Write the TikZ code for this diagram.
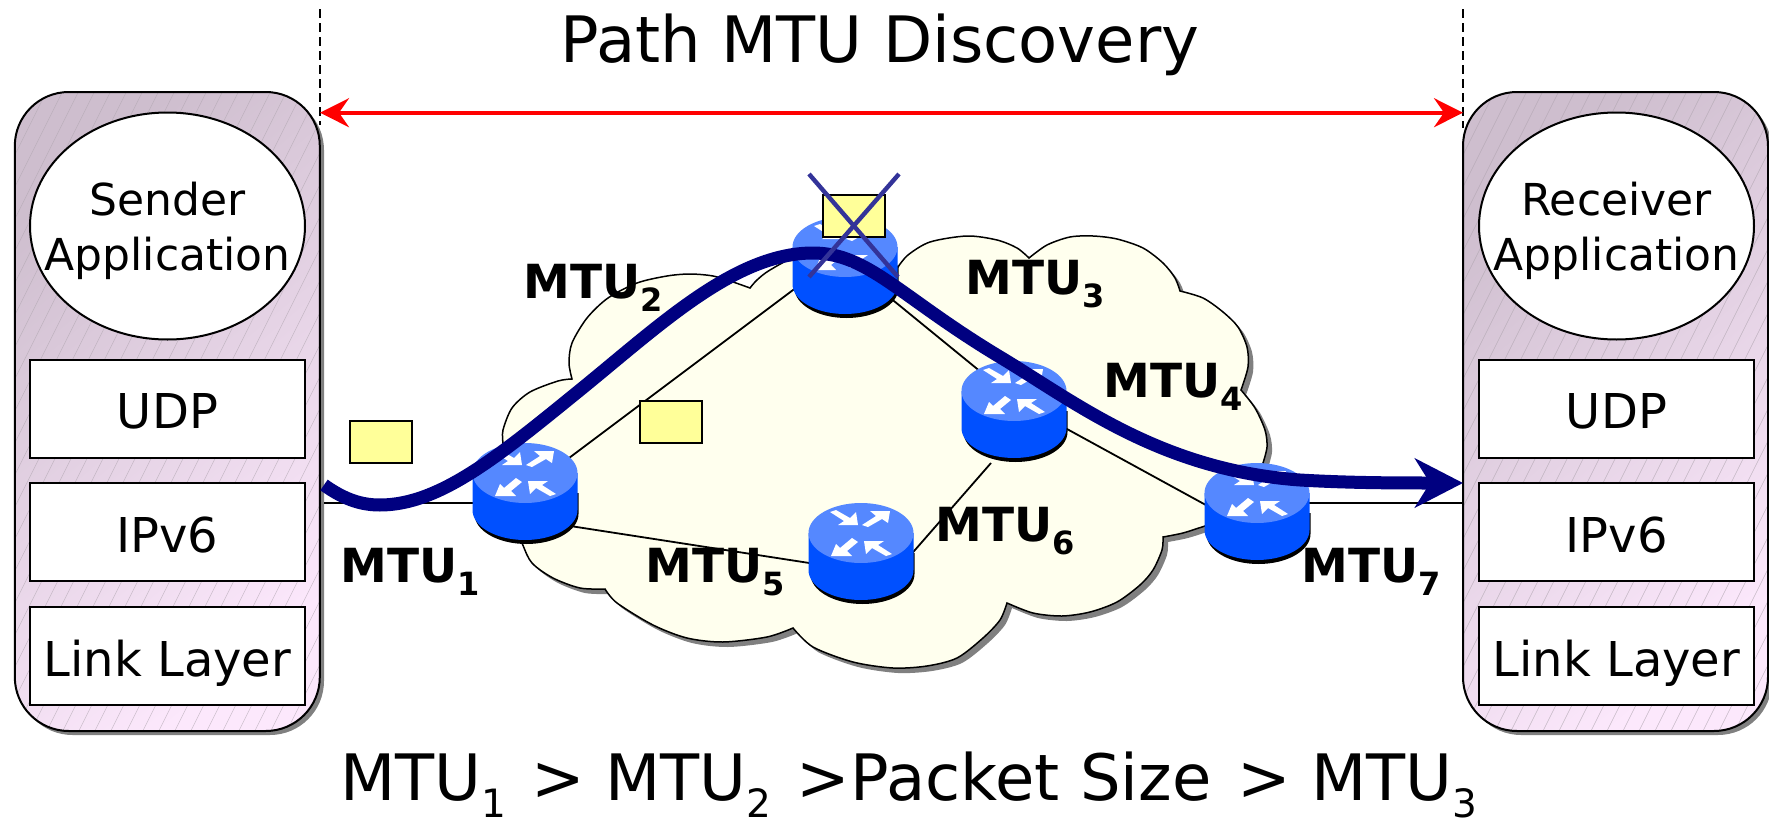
\documentclass[tikz,border=0pt]{standalone}
\usepackage{fontspec}
\setmainfont{DejaVu Sans}
\usetikzlibrary{arrows.meta,calc,shapes.geometric}
\definecolor{hostdark}{RGB}{206,190,206}
\definecolor{hostlight}{RGB}{252,232,252}
\definecolor{hatchc}{RGB}{176,166,176}
\definecolor{shadowc}{RGB}{128,128,128}
\definecolor{cloudc}{RGB}{255,255,238}
\definecolor{packetc}{RGB}{255,255,153}
\definecolor{rlight}{RGB}{85,136,255}
\definecolor{rbody}{RGB}{0,80,255}
\definecolor{pathc}{RGB}{0,0,128}
\definecolor{crossc}{RGB}{51,51,153}
\newcommand{\subreg}[1]{\raisebox{-8.5pt}{\fontsize{19.5}{20}\selectfont #1}}
\newcommand{\mtulab}[1]{\textbf{MTU\raisebox{-6.5pt}{\fontsize{16}{16}\selectfont #1}}}
\newcommand{\cloudpath}{
  plot[smooth] coordinates {(503,443) (503,430) (512,408) (530,392) (558,381) (572,379)}
  -- plot[smooth] coordinates {(572,379) (569,363) (572,343) (587,318) (608,298) (637,283) (667,276) (690,274) (713,276) (733,282) (750,288)}
  -- plot[smooth] coordinates {(750,288) (757,280) (770,270) (800,255) (850,245) (880,255) (898,267)}
  -- plot[smooth] coordinates {(898,267) (908,255) (930,242) (967,236) (997,240) (1017,248) (1029,258)}
  -- plot[smooth] coordinates {(1029,258) (1047,245) (1070,237) (1093,236) (1117,239) (1143,248) (1163,263) (1175,278) (1180,291)}
  -- plot[smooth] coordinates {(1180,291) (1203,298) (1223,312) (1238,327) (1247,347) (1248,367) (1241,390)}
  -- plot[smooth] coordinates {(1241,390) (1255,408) (1265,430) (1267,447) (1263,463)}
  -- plot[smooth] coordinates {(1263,463) (1265,490) (1240,515) (1205,526) (1183,533) (1163,537)}
  -- plot[smooth] coordinates {(1163,537) (1162,550) (1153,570) (1140,585) (1117,602) (1090,612) (1062,616) (1033,613) (1007,603)}
  -- plot[smooth] coordinates {(1007,603) (1000,620) (983,638) (957,658) (927,666) (893,668) (853,662) (813,647) (793,628)}
  -- plot[smooth] coordinates {(793,628) (767,637) (723,642) (687,638) (653,625) (617,603) (605,589)}
  -- plot[smooth] coordinates {(605,589) (580,588) (553,578) (532,563) (522,543) (505,500) (503,443)}
  -- cycle}
\tikzset{
  px/.style={x=.5pt,y=-.5pt},
  hostbox/.style={draw=black,line width=1pt,rounded corners=27pt,inner sep=0pt,
    minimum width=152.5pt,minimum height=319.5pt,
    top color=hostdark,bottom color=hostlight,shading angle=40,
    path picture={\foreach \i in {-25,...,25}{
      \draw[hatchc,line width=.25pt,opacity=.7] ($(path picture bounding box.south west)+(\i*16,0)$) -- ++(320,-640);}}},
  appell/.style={ellipse,draw=black,fill=white,line width=1pt,inner sep=0pt,
    minimum width=137.5pt,minimum height=113.5pt},
  apptext/.style={inner sep=0pt,align=center,font=\fontsize{22}{27.5}\selectfont},
  layerbox/.style={rectangle,draw=black,fill=white,line width=1pt,inner sep=0pt,
    minimum width=137.5pt,minimum height=49pt,text height=26pt,text depth=6pt,font=\fontsize{24}{28}\selectfont},
  packet/.style={rectangle,draw=black,fill=packetc,line width=1pt,inner sep=0pt,
    minimum width=31pt,minimum height=21pt},
  hub/.style={inner sep=0pt,minimum size=0pt},
  wire/.style={black,line width=.9pt},
  guide/.style={black,line width=.65pt,dash pattern=on 4.5pt off 2.5pt},
  mtu/.style={anchor=base west,inner sep=0pt,font=\fontsize{23.5}{28}\selectfont},
  bigtext/.style={inner sep=0pt,font=\fontsize{32}{38}\selectfont},
  router/.pic={
    \fill[black] (-50.5,20) -- (53.5,20) -- (53.5,41) arc[start angle=0,end angle=180,x radius=52,y radius=30] -- cycle;
    \fill[rbody] (-52.5,0) -- (52.5,0) -- (52.5,37) arc[start angle=0,end angle=180,x radius=52.5,y radius=30] -- cycle;
    \fill[rlight] (0,0) ellipse[x radius=52.5,y radius=30];
    \fill[white] (-30,23) -- (-9,23) -- (-14,18) -- (-3,9) -- (-9,5) -- (-21,15) -- (-25,11) -- cycle;
    \fill[white] (3,8) -- (23,8) -- (17,12) -- (31,21) -- (25,23) -- (11,15) -- (5,21) -- cycle;
    \fill[white] (-3,-8) -- (-23,-8) -- (-17,-12) -- (-31,-21) -- (-25,-23) -- (-11,-15) -- (-5,-21) -- cycle;
    \fill[white] (29,-22) -- (9,-22) -- (15,-17) -- (1,-8) -- (7,-6) -- (21,-14) -- (27,-10) -- cycle;
  }
}
\begin{document}
\begin{tikzpicture}[px]
\useasboundingbox (0,0) rectangle (1769,819);
% hosts
\fill[shadowc,rounded corners=27pt] (18.5,96) rectangle (324,735);
\fill[shadowc,rounded corners=27pt] (1467,96) rectangle (1772,735);
\node[hostbox] (hostL) at (167.3,411.5) {};
\node[hostbox] (hostR) at (1615.5,411.5) {};
\node[appell] (appL) at (167.5,226) {};
\node[appell] (appR) at (1616.5,226) {};
\node[apptext] (appLt) at (167.5,231) {Sender\\Application};
\node[apptext] (appRt) at (1616.5,231) {Receiver\\Application};
\node[layerbox] (udpL) at (167.5,408.5) {UDP};
\node[layerbox] (ipL) at (167.5,532) {IPv6};
\node[layerbox] (linkL) at (167.5,656) {Link Layer};
\node[layerbox] (udpR) at (1616.5,408.5) {UDP};
\node[layerbox] (ipR) at (1616.5,532) {IPv6};
\node[layerbox] (linkR) at (1616.5,656) {Link Layer};
% guides
\coordinate (gLt) at (320,9);
\coordinate (gLb) at (320,125);
\coordinate (gRt) at (1463,9);
\coordinate (gRb) at (1463,128);
\draw[guide] (gLt) -- (gLb);
\draw[guide] (gRt) -- (gRb);
\coordinate (spanL) at (320,112.7);
\coordinate (spanR) at (1463,112.7);
\draw[red,line width=1.8pt,{Stealth[length=14.5pt,width=14.5pt,inset=5pt]}-{Stealth[length=14.5pt,width=14.5pt,inset=5pt]}] (spanL) -- (spanR);
% cloud
\fill[shadowc,shift={(5,5)}] \cloudpath;
\draw[black,fill=cloudc,line width=.75pt] \cloudpath;
% anchors of the routers
\node[hub] (r1) at (525,473) {};
\node[hub] (r2) at (845,247) {};
\node[hub] (r3) at (1014,391) {};
\node[hub] (r4) at (861,533) {};
\node[hub] (r5) at (1257,493) {};
\coordinate (w1) at (324,503);
\coordinate (w2) at (1463,503);
\coordinate (free) at (991,463);
% links
\draw[wire] (w1) -- ([shift={(0,30)}]r1.center);
\draw[wire] ([shift={(0,10)}]r5.center) -- (w2);
\draw[wire] ([shift={(0,18)}]r1.center) -- ([shift={(0,4)}]r2.center);
\draw[wire] ([shift={(0,14)}]r2.center) -- ([shift={(0,8)}]r3.center);
\draw[wire] ([shift={(0,9)}]r3.center) -- ([shift={(0,40)}]r5.center);
\draw[wire] ([shift={(0,46)}]r1.center) -- ([shift={(0,38)}]r4.center);
\draw[wire] (free) -- ([shift={(40,33)}]r4.center);
% routers
\pic at (r1.center) {router};
\pic at (r2.center) {router};
\pic at (r3.center) {router};
\pic at (r4.center) {router};
\pic at (r5.center) {router};
% packets
\node[packet] (p1) at (380.5,442) {};
\node[packet] (p2) at (671,422) {};
\node[packet] (p3) at (854,216) {};
% path
\coordinate (flowA) at (324,485);
\coordinate (flowB) at (1463,483);
\draw[pathc,line width=6.5pt,-{Stealth[length=24pt,width=24.5pt,inset=7.5pt]}]
  (flowA) .. controls (345,500) and (362,505) .. (380,505)
  .. controls (440,505) and (500,455) .. (580,390)
  .. controls (660,325) and (735,253) .. (813,253)
  .. controls (868,253) and (900,297) .. (1000,357)
  .. controls (1075,402) and (1160,470) .. (1300,480)
  .. controls (1350,483) and (1400,483) .. (flowB);
% cross
\coordinate (xa) at (809,174);
\coordinate (xb) at (898,277);
\coordinate (xc) at (899,174);
\coordinate (xd) at (809,277);
\draw[crossc,line width=2.2pt] (xa) -- (xb);
\draw[crossc,line width=2.2pt] (xc) -- (xd);
% labels
\node[mtu] (m1) at (340,582) {\mtulab{1}};
\node[mtu] (m2) at (523,298) {\mtulab{2}};
\node[mtu] (m3) at (965,294) {\mtulab{3}};
\node[mtu] (m4) at (1103,397) {\mtulab{4}};
\node[mtu] (m5) at (645,582) {\mtulab{5}};
\node[mtu] (m6) at (935,541) {\mtulab{6}};
\node[mtu] (m7) at (1301,582) {\mtulab{7}};
\node[bigtext,anchor=base] (title) at (880,62) {Path MTU Discovery};
\node[bigtext,anchor=base west] (rel) at (340,800) {MTU\subreg{1}\kern2.5pt{} > MTU\subreg{2}\kern2.5pt{} >Packet Size\kern2.5pt{} > MTU\subreg{3}};
\end{tikzpicture}
\end{document}
